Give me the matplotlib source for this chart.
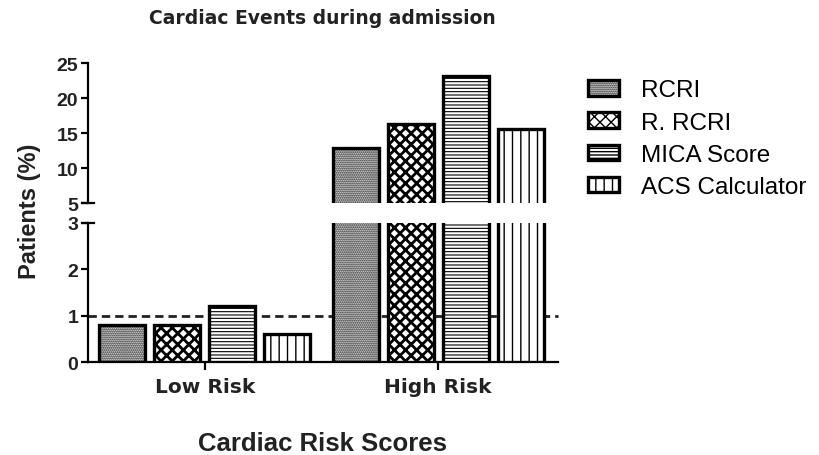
import matplotlib
matplotlib.use("Agg")
import matplotlib.pyplot as plt
import numpy as np

# data
groups = ["Low Risk", "High Risk"]
scores = ["RCRI", "R. RCRI", "MICA Score", "ACS Calculator"]
rcri = [0.8, 12.9]
r_rcri = [0.8, 16.3]
mica = [1.2, 23.2]
acs = [0.6, 15.6]
series = [rcri, r_rcri, mica, acs]
hatches = ["........", "xxx", "-----", "||"]
hatch_lw = [1.0, 2.0, 0.8, 1.0]

low_ticks = [0, 1, 2, 3]
high_ticks = [5, 10, 15, 20, 25]
threshold = 1

plt.rcParams["font.family"] = ["Liberation Sans", "DejaVu Sans"]

fig = plt.figure(figsize=(8.2, 4.56), dpi=100)
ax_hi = fig.add_axes([0.1073, 0.5526, 0.5732, 0.3070])
ax_lo = fig.add_axes([0.1073, 0.2039, 0.5732, 0.3049])

x = np.arange(len(groups))
step = 0.235
width = 0.197

for ax in (ax_hi, ax_lo):
    for i, vals in enumerate(series):
        plt.rcParams["hatch.linewidth"] = hatch_lw[i]
        bars = ax.bar(x + (i - 1.5) * step, vals, width, color="white",
                      edgecolor="black", linewidth=2.4, hatch=hatches[i],
                      label=scores[i], zorder=3)
        for b in bars:
            if hasattr(b, "set_hatch_linewidth"):
                b.set_hatch_linewidth(hatch_lw[i])
    ax.set_xlim(-0.5, 1.513)
    ax.spines["right"].set_visible(False)
    ax.spines["top"].set_visible(False)
    ax.spines["left"].set_linewidth(1.6)
    ax.spines["bottom"].set_linewidth(1.6)
    ax.tick_params(axis="y", length=5, width=1.6, pad=2, labelsize=14)

ax_hi.set_ylim(5, 25)
ax_hi.set_yticks(high_ticks)
ax_hi.spines["bottom"].set_visible(False)
ax_hi.set_xticks([])

ax_lo.set_ylim(0, 3)
ax_lo.set_yticks(low_ticks)
ax_lo.set_xticks(x)
ax_lo.set_xticklabels(groups, family="DejaVu Sans", fontweight="bold",
                      fontsize=14.5, color="#222222")
ax_lo.tick_params(axis="x", length=6, width=1.6, pad=5)
for ax in (ax_hi, ax_lo):
    for lab in ax.get_yticklabels():
        lab.set_fontweight("bold")
        lab.set_color("#222222")

ax_lo.axhline(threshold, color="#222222", linewidth=2, linestyle=(0, (3, 1.8)),
              zorder=1, clip_on=False)

# break marks at the axis gap
ax_hi.plot([-0.012, 0.012], [0, 0], transform=ax_hi.transAxes, color="black",
           linewidth=1.6, clip_on=False)
ax_lo.plot([-0.012, 0.012], [1, 1], transform=ax_lo.transAxes, color="black",
           linewidth=1.6, clip_on=False)

fig.text(0.393, 1 - 19 / 456, "Cardiac Events during admission",
         family="DejaVu Sans", fontweight="bold", fontsize=13.5,
         ha="center", va="center", color="#222222")
fig.text(0.393, 1 - 444 / 456, "Cardiac Risk Scores", fontweight="bold",
         fontsize=18.5, ha="center", va="center", color="#222222")
fig.text(30 / 820, 1 - 211 / 456, "Patients (%)", fontweight="bold",
         fontsize=17, rotation=90, ha="center", va="center", color="#222222")

handles, labels = ax_lo.get_legend_handles_labels()
fig.legend(handles, labels, loc="upper left", bbox_to_anchor=(0.705, 0.845),
           frameon=False, fontsize=17.5, handlelength=1.3, handleheight=0.6,
           handletextpad=0.9, labelspacing=0.42, borderaxespad=0)

fig.savefig("out.png", dpi=100)
